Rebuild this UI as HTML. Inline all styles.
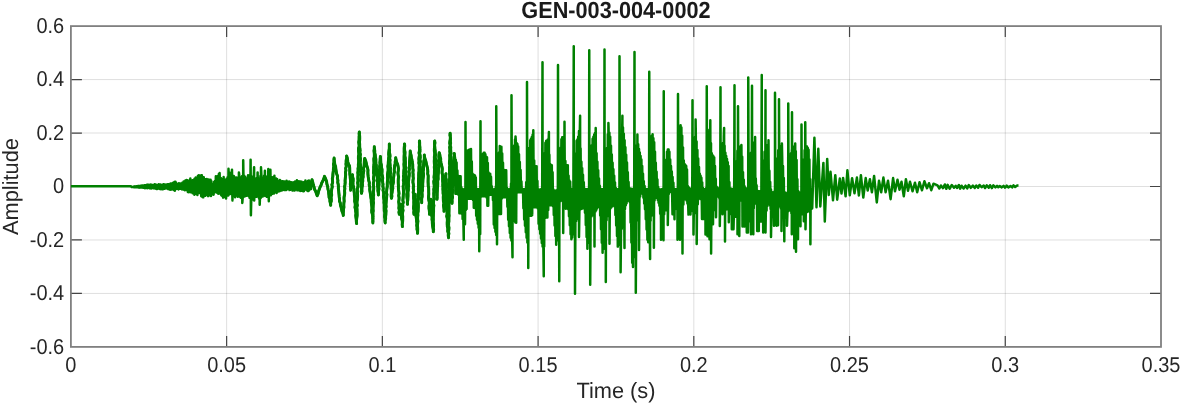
<!DOCTYPE html>
<html><head><meta charset="utf-8"><style>
html,body{margin:0;padding:0;background:#fff;overflow:hidden}
svg{display:block}
text{text-rendering:geometricPrecision}
.tk{font-family:"Liberation Sans",Arial,sans-serif;font-size:20px;fill:#262626}
.lb{font-family:"Liberation Sans",Arial,sans-serif;font-size:21.8px;fill:#262626}
.tt{font-family:"Liberation Sans",Arial,sans-serif;font-size:21.7px;font-weight:bold;fill:#1a1a1a}
</style></head><body>
<svg width="1182" height="404" viewBox="0 0 1182 404"><rect x="0" y="0" width="1182" height="404" fill="#fff"/><path d="M226.63 26.10V346.90M382.36 26.10V346.90M538.09 26.10V346.90M693.81 26.10V346.90M849.54 26.10V346.90M1005.27 26.10V346.90" stroke="#262626" stroke-opacity="0.15" stroke-width="1" fill="none"/><path d="M70.90 79.57H1161.00M70.90 133.03H1161.00M70.90 186.50H1161.00M70.90 239.97H1161.00M70.90 293.43H1161.00" stroke="#262626" stroke-opacity="0.15" stroke-width="1" fill="none"/><path d="M226.63 346.90v-11M226.63 26.10v11M382.36 346.90v-11M382.36 26.10v11M538.09 346.90v-11M538.09 26.10v11M693.81 346.90v-11M693.81 26.10v11M849.54 346.90v-11M849.54 26.10v11M1005.27 346.90v-11M1005.27 26.10v11M70.90 293.43h11M1161.00 293.43h-11M70.90 239.97h11M1161.00 239.97h-11M70.90 186.50h11M1161.00 186.50h-11M70.90 133.03h11M1161.00 133.03h-11M70.90 79.57h11M1161.00 79.57h-11" stroke="#444" stroke-width="1.2" fill="none"/><rect x="70.90" y="26.10" width="1090.10" height="320.80" stroke="#808080" stroke-width="1.8" fill="none"/><path d="M70.90 186.30 131.00 186.30 131.00 186.30 131.57 187.07 131.98 186.94 132.55 187.06 133.10 186.73 133.57 187.11 133.99 186.65 134.45 187.17 134.94 186.37 135.49 187.24 136.09 186.36 136.48 187.28 136.84 186.31 137.32 187.27 137.89 185.96 138.37 187.34 138.79 186.11 139.18 187.49 139.58 185.90 139.93 187.62 140.32 185.89 140.89 187.55 141.46 185.60 141.99 187.41 142.48 185.58 143.04 187.64 143.54 185.76 143.99 187.69 144.38 185.20 144.82 188.19 145.32 185.25 145.83 188.08 146.22 185.28 146.63 187.94 147.00 184.80 147.41 188.22 147.83 184.78 148.35 187.84 148.91 184.66 149.48 188.30 149.87 185.28 150.45 188.36 150.85 184.61 151.36 188.45 151.80 185.02 152.21 188.01 152.78 184.93 153.27 188.36 153.80 185.34 154.25 188.13 154.63 184.34 155.14 188.61 155.62 184.39 156.06 188.85 156.58 184.91 157.06 189.13 157.64 185.11 158.22 188.33 158.76 184.35 159.14 188.79 159.70 185.26 160.20 189.19 160.68 184.47 161.09 188.50 161.53 185.09 161.97 189.32 162.46 184.91 162.88 189.30 163.34 184.22 163.82 188.80 164.39 184.49 164.89 188.67 165.46 184.86 166.04 188.27 166.49 184.63 167.08 188.58 167.63 184.16 168.16 189.20 168.76 184.34 169.21 188.75 169.57 184.33 170.15 189.81 170.53 183.52 171.00 189.57 171.51 183.77 172.10 189.51 172.61 182.95 173.00 188.91 173.46 182.49 174.01 190.27 174.39 181.95 174.94 190.72 175.42 181.66 175.78 188.74 176.14 182.87 176.55 188.85 177.04 183.64 177.54 188.59 178.06 184.07 178.49 189.50 178.97 183.36 179.48 188.70 179.88 184.14 180.24 188.84 180.83 183.48 181.19 188.55 181.62 184.16 182.13 189.52 182.56 182.45 183.11 188.65 183.65 181.54 184.05 189.74 184.56 181.42 184.93 190.20 185.44 180.43 185.99 190.05 186.52 179.90 187.10 190.24 187.45 180.17 187.86 191.90 188.44 180.71 188.86 192.21 189.37 181.38 189.82 191.28 190.33 178.49 190.77 192.19 191.26 180.29 191.67 192.11 192.14 180.45 192.67 193.16 193.10 180.10 193.64 191.47 194.02 179.53 194.39 194.72 194.81 178.49 195.37 193.71 195.77 177.55 196.34 192.86 196.86 178.75 197.40 194.95 197.95 175.81 198.40 191.85 198.88 175.13 199.27 193.02 199.76 175.38 200.33 192.73 200.73 175.46 201.24 196.10 201.84 175.15 202.40 197.00 202.85 177.09 203.24 197.36 203.78 177.17 204.24 195.51 204.70 180.83 205.26 195.87 205.71 179.27 206.24 194.82 206.79 178.92 207.24 193.85 207.78 179.81 208.17 196.10 208.72 179.42 209.11 193.58 209.70 181.51 210.10 195.13 210.56 179.64 210.96 195.94 211.36 181.17 211.73 194.04 212.09 183.94 212.51 194.36 212.98 184.75 213.58 194.75 214.16 181.83 214.60 192.34 214.98 180.96 215.46 191.61 215.85 176.30 216.33 192.10 216.84 178.24 217.33 192.86 217.80 175.96 218.29 193.73 218.84 174.03 219.23 192.73 219.61 173.06 220.19 193.52 220.79 177.89 221.26 195.22 221.84 179.43 222.27 196.02 222.64 178.99 223.10 197.61 223.64 177.02 224.18 197.11 224.75 179.84 225.28 195.80 225.67 180.28 226.06 198.55 226.56 178.86 227.15 194.54 227.63 177.22 228.22 195.54 228.50 168.70 228.77 176.05 229.32 194.35 229.83 172.78 230.29 192.01 230.81 173.55 231.24 193.86 231.65 175.12 232.00 169.70 232.19 191.53 232.50 200.40 232.72 178.46 233.31 194.32 233.76 175.90 234.24 196.12 234.62 177.37 235.10 197.19 235.46 178.16 235.97 195.50 236.34 177.42 236.75 193.88 237.32 179.24 237.78 196.65 238.31 177.45 238.86 195.59 238.90 172.40 239.36 176.06 239.88 196.81 240.33 177.33 240.78 197.65 241.23 177.83 241.77 196.76 242.20 175.97 242.30 203.00 242.65 198.46 243.19 177.93 243.20 160.20 243.72 194.04 244.17 175.80 244.66 196.51 245.18 176.71 245.68 195.58 246.07 178.63 246.50 195.67 247.10 178.36 247.56 195.61 248.05 175.35 248.62 195.87 249.04 175.67 249.51 197.67 249.88 175.77 250.31 196.94 250.60 159.70 250.71 178.20 250.90 215.20 251.27 199.16 251.74 176.47 252.20 197.16 252.69 179.67 253.12 199.41 253.66 180.63 254.10 167.20 254.19 200.40 254.65 180.68 255.17 197.03 255.69 178.95 256.19 196.87 256.66 178.12 257.17 196.37 257.60 172.40 257.76 179.36 258.19 196.44 258.56 178.62 259.10 198.63 259.50 180.10 259.70 204.80 259.93 198.74 260.40 175.97 260.91 197.74 261.00 167.20 261.46 176.86 261.89 195.65 262.35 178.18 262.74 196.40 263.25 179.94 263.63 194.86 264.05 175.79 264.41 194.74 264.80 178.20 264.90 170.70 265.15 195.94 265.54 179.24 266.09 194.38 266.60 178.61 267.05 196.86 267.44 176.23 268.01 195.59 268.30 168.90 268.38 177.50 268.80 201.30 268.88 195.54 269.28 176.30 269.85 192.17 270.28 180.31 270.40 169.70 270.84 195.21 271.44 178.25 271.95 193.94 272.44 177.24 272.95 192.37 273.42 181.05 273.96 193.45 274.40 175.70 274.41 178.29 274.95 191.93 275.32 180.99 275.72 191.46 276.18 178.49 276.60 192.92 277.12 178.97 277.57 189.65 278.11 180.99 278.50 191.50 279.02 181.20 279.44 191.32 279.86 180.06 280.24 190.65 280.62 180.69 280.98 189.96 281.54 181.84 281.96 190.43 282.46 181.36 282.97 189.64 283.53 181.50 284.07 190.02 284.61 181.40 285.14 190.11 285.58 182.30 286.17 190.09 286.58 180.78 287.00 189.50 287.56 181.51 287.98 189.10 288.35 182.09 288.77 188.80 289.14 181.56 289.54 190.08 290.12 181.97 290.61 189.63 290.98 182.29 291.55 189.62 292.10 182.41 292.60 190.57 293.17 182.53 293.65 189.50 294.19 182.37 294.61 190.58 295.07 181.47 295.67 189.50 296.03 181.63 296.41 188.99 296.91 180.34 297.40 190.37 297.83 181.27 298.37 190.30 298.92 181.35 299.32 190.34 299.79 182.28 300.30 190.93 300.68 181.41 301.22 189.98 301.63 181.85 302.12 190.68 302.61 182.50 303.16 191.28 303.54 182.14 303.93 191.13 304.51 182.61 304.94 189.58 305.41 180.49 305.78 189.55 306.25 181.42 306.78 190.23 307.17 181.82 307.77 190.99 308.14 180.68 308.57 190.98 308.93 180.51 309.32 190.11 309.83 181.30 310.22 189.24 310.64 182.28 311.05 189.12 312.00 179.70 312.71 182.08 313.20 184.51 314.00 186.87 314.50 189.30 315.66 191.36 316.39 193.59 317.20 195.80 318.05 193.72 318.46 191.50 319.25 189.41 320.00 187.30 321.04 185.18 321.75 182.92 322.91 180.85 323.83 178.68 324.50 176.40 325.66 178.96 326.60 181.60 326.93 184.19 327.68 186.71 328.00 189.30 328.55 191.25 328.71 193.27 328.95 195.27 329.09 197.29 329.90 199.20 329.90 201.25 330.38 203.21 330.70 205.20 330.63 203.14 331.28 201.12 331.26 199.06 331.07 196.99 331.68 194.98 331.35 192.90 331.49 190.85 331.78 188.81 332.29 186.79 331.90 184.70 332.58 182.69 332.54 180.63 332.36 178.56 332.81 176.53 332.89 174.48 333.10 172.44 333.35 170.40 333.47 168.35 333.81 166.31 333.45 164.23 333.99 162.21 333.90 160.14 334.10 158.10 334.27 160.23 334.53 162.34 334.81 164.45 335.57 166.48 335.79 168.60 336.10 170.70 336.54 173.47 337.50 176.10 337.40 178.20 337.91 180.26 337.74 182.37 338.22 184.43 338.41 186.51 338.35 188.61 338.68 190.68 338.86 192.76 339.07 194.84 339.21 196.93 339.55 199.00 339.50 201.10 340.30 203.08 340.44 205.22 341.09 207.24 341.57 209.30 342.04 211.36 342.91 213.32 343.30 215.40 343.25 213.34 343.39 211.30 343.52 209.25 343.91 207.22 343.79 205.15 343.88 203.10 344.18 201.07 344.02 199.00 344.09 196.95 344.56 194.92 344.71 192.88 344.54 190.81 344.86 188.78 344.61 186.71 344.95 184.67 345.17 182.63 345.09 180.57 345.26 178.53 345.53 176.49 345.63 174.44 345.48 172.37 345.93 170.34 345.67 168.28 346.31 166.26 345.97 164.18 346.11 162.14 346.19 160.09 346.78 158.06 346.60 156.00 347.24 157.95 347.57 159.98 347.87 162.02 348.41 164.00 349.45 165.85 349.70 167.90 349.77 169.93 349.80 171.96 349.82 173.99 350.13 176.01 350.21 178.03 350.49 180.05 350.55 182.08 350.32 184.12 350.69 186.14 350.70 188.17 350.60 190.20 350.77 187.97 350.89 185.74 351.13 183.52 351.94 181.37 351.92 179.12 352.05 176.89 352.50 174.70 352.55 176.75 353.13 178.75 353.16 180.80 352.91 182.87 353.12 184.91 353.44 186.93 353.94 188.94 353.98 190.99 354.32 193.01 354.38 195.06 354.66 197.09 354.77 199.13 354.64 201.19 355.13 203.20 355.27 205.25 354.99 207.32 355.50 209.33 355.67 211.37 355.99 213.39 355.74 215.46 355.98 217.50 356.23 219.53 356.36 221.57 356.60 223.60 356.42 221.56 356.58 219.52 356.83 217.49 357.11 215.46 357.09 213.42 357.04 211.38 357.03 209.34 356.79 207.30 357.37 205.28 356.94 203.23 357.04 201.19 357.44 199.16 357.57 197.13 357.61 195.09 357.47 193.05 357.37 191.01 357.34 188.97 357.89 186.95 358.03 184.91 357.65 182.86 358.08 180.84 357.86 178.79 357.87 176.75 358.04 174.72 357.81 172.67 358.13 170.65 358.04 168.60 358.41 166.58 358.34 164.54 358.62 162.51 358.70 160.47 358.41 158.42 358.45 156.39 358.90 154.36 358.70 152.32 358.52 150.27 358.55 148.24 359.17 146.22 358.99 144.17 358.73 142.13 359.07 140.10 359.12 138.06 359.14 136.02 359.51 133.99 359.30 131.95 359.10 134.00 359.67 136.03 359.73 138.08 359.65 140.13 359.47 142.18 359.67 144.22 359.68 146.27 359.84 148.31 360.13 150.35 359.84 152.41 360.40 154.43 360.06 156.49 360.44 158.53 360.34 160.58 360.12 162.64 360.45 164.67 360.81 166.71 360.66 168.76 360.60 170.81 361.03 172.84 360.99 174.89 361.20 176.93 360.96 178.99 361.13 181.03 361.13 183.08 361.33 185.12 361.19 187.17 361.55 189.20 361.18 191.26 361.50 193.30 361.96 191.27 361.87 189.19 362.04 187.14 362.47 185.11 362.32 183.02 362.81 181.00 362.69 178.92 363.14 176.89 363.09 174.81 363.44 172.78 363.83 170.74 363.49 168.64 364.13 166.63 364.16 164.56 364.25 162.50 364.42 160.44 364.70 158.40 365.65 160.70 366.24 163.11 366.73 165.55 367.50 167.90 367.98 170.00 367.88 172.17 367.95 174.32 368.18 176.45 368.48 178.57 368.77 180.69 369.39 182.78 369.16 184.96 369.86 187.04 369.71 189.21 369.95 191.34 370.34 193.45 370.64 195.57 370.90 197.70 371.25 199.79 371.22 201.90 371.53 203.99 371.79 206.08 371.96 208.18 371.72 210.31 371.81 212.42 372.45 214.48 372.69 216.58 372.71 218.69 372.95 220.78 372.90 222.90 372.75 220.89 373.02 218.90 372.96 216.89 373.00 214.89 372.91 212.88 373.22 210.89 373.03 208.88 373.13 206.88 373.21 204.88 373.51 202.88 373.15 200.87 373.47 198.87 373.26 196.86 373.65 194.87 373.39 192.86 373.49 190.86 373.75 188.86 373.67 186.85 373.36 184.85 373.42 182.84 373.97 180.85 373.43 178.84 373.63 176.84 374.06 174.84 373.53 172.83 373.65 170.83 373.72 168.83 373.68 166.82 373.95 164.82 374.06 162.82 373.93 160.82 373.84 158.81 374.30 156.82 374.34 154.81 374.23 152.81 374.01 150.80 374.29 148.80 374.30 146.80 374.44 148.85 374.79 150.88 374.75 152.96 375.25 154.97 375.40 157.02 375.86 159.04 375.82 161.12 375.92 163.17 376.30 165.20 376.31 167.34 376.75 169.45 376.46 171.61 376.77 173.72 377.10 175.84 377.25 177.97 377.18 180.11 377.69 182.21 377.57 184.36 377.67 186.49 377.94 188.61 377.88 190.76 378.27 192.87 378.40 195.00 378.48 192.97 378.48 190.93 378.97 188.92 378.71 186.87 379.04 184.85 378.98 182.81 379.40 180.79 379.51 178.76 379.07 176.70 379.75 174.70 379.62 172.66 379.41 170.61 379.77 168.59 379.60 166.54 380.01 164.53 379.90 162.48 380.11 160.46 380.18 158.43 380.40 156.40 380.56 158.60 380.65 160.80 380.81 162.99 381.39 165.15 381.47 167.35 382.03 169.50 382.03 171.71 381.90 173.94 382.40 176.10 382.75 178.12 382.42 180.18 382.67 182.21 383.01 184.23 382.84 186.28 383.26 188.30 383.02 190.36 383.62 192.36 383.72 194.40 383.47 196.46 383.77 198.48 384.07 200.50 383.97 202.55 384.23 204.58 384.20 206.62 384.20 208.67 384.26 210.70 384.86 212.71 384.66 214.76 384.55 216.81 384.98 218.83 384.92 220.87 385.20 222.90 385.06 220.87 385.63 218.87 385.56 216.84 385.85 214.83 385.90 212.81 386.05 210.79 385.67 208.74 386.17 206.74 385.96 204.71 386.11 202.69 386.25 200.67 386.52 198.66 386.64 196.64 386.93 194.63 386.48 192.58 386.70 190.56 386.90 188.55 387.28 186.54 387.23 184.51 387.31 182.49 387.56 180.48 387.61 178.45 387.49 176.42 387.48 174.39 387.81 172.39 388.16 170.38 388.10 168.35 387.88 166.31 388.21 164.30 388.28 162.28 388.51 160.27 388.62 158.25 388.94 156.24 388.68 154.20 388.82 152.18 389.05 150.17 389.32 148.15 389.32 146.13 389.30 144.10 389.40 146.11 389.27 148.12 389.55 150.12 389.35 152.14 389.84 154.13 390.01 156.14 389.67 158.16 390.07 160.15 389.83 162.18 390.05 164.18 390.19 166.18 390.53 168.18 390.19 170.20 390.70 172.19 390.24 174.22 390.38 176.23 390.80 178.22 390.99 180.22 390.62 182.25 390.94 184.25 391.24 186.25 391.09 188.26 391.33 190.26 391.31 192.28 391.25 194.29 391.17 196.30 391.50 198.30 391.89 196.29 391.72 194.22 392.12 192.21 392.34 190.18 392.84 188.18 392.51 186.09 392.98 184.09 393.43 182.09 393.33 180.02 393.46 177.99 393.84 175.97 393.91 173.93 394.48 171.94 394.19 169.85 394.47 167.83 394.61 165.79 395.20 163.80 395.16 161.75 395.73 159.75 395.70 157.70 396.07 159.99 396.65 162.22 397.64 164.34 398.10 166.60 398.45 168.67 398.27 170.75 397.98 172.83 398.15 174.90 398.62 176.96 398.29 179.05 398.22 181.12 398.24 183.20 398.44 185.27 398.40 187.34 398.47 189.42 398.81 191.48 399.02 193.55 398.69 195.64 399.10 197.70 399.00 199.78 398.69 201.86 399.00 203.93 399.08 206.00 398.87 208.09 399.33 210.15 398.95 212.23 399.30 214.30 399.79 212.33 399.70 210.29 399.92 208.29 400.04 206.27 400.50 204.30 400.42 206.35 401.03 208.34 401.31 210.36 400.96 212.43 401.30 214.44 401.43 216.47 401.57 218.50 402.16 220.49 402.30 222.52 402.23 224.57 402.40 226.60 402.18 224.58 402.51 222.57 402.70 220.55 402.70 218.53 402.73 216.52 402.44 214.49 402.60 212.48 403.05 210.47 402.63 208.44 402.93 206.43 402.69 204.41 403.28 202.40 402.87 200.37 403.06 198.36 403.20 196.34 403.35 194.33 403.53 192.32 403.46 190.30 403.28 188.27 403.17 186.25 403.60 184.24 403.81 182.23 403.29 180.20 403.79 178.19 403.49 176.17 403.71 174.16 403.80 172.14 403.90 170.12 404.18 168.11 404.05 166.09 403.92 164.07 404.17 162.06 404.07 160.04 404.09 158.02 404.11 156.00 404.24 153.99 404.16 151.96 404.19 149.95 404.19 147.93 404.41 145.92 404.50 143.90 404.72 145.91 404.50 147.94 404.59 149.95 404.99 151.95 404.93 153.97 404.86 155.99 405.28 157.99 405.27 160.01 405.43 162.02 405.41 164.04 405.32 166.06 405.92 168.05 405.52 170.09 405.80 172.09 405.82 174.11 406.02 176.12 405.98 178.14 406.40 180.13 406.28 182.16 406.64 184.16 406.59 186.18 406.59 188.20 406.98 190.20 407.16 192.21 406.83 194.24 406.91 196.26 407.10 198.26 407.41 200.27 407.31 202.29 407.50 204.30 407.35 202.23 407.81 200.20 407.86 198.14 407.99 196.09 407.99 194.03 407.96 191.97 408.36 189.93 408.31 187.87 408.58 185.82 408.46 183.76 408.40 181.70 408.77 179.66 408.92 177.60 409.21 175.56 409.29 173.50 408.90 171.43 409.43 169.39 409.23 167.32 409.59 165.28 409.50 163.22 409.57 161.16 409.78 159.12 409.91 157.06 410.11 155.01 410.18 152.96 410.20 150.90 410.51 153.15 411.10 155.35 411.35 157.62 411.96 159.82 412.22 162.08 412.70 164.30 412.78 166.30 412.77 168.30 413.15 170.29 412.91 172.30 413.13 174.30 413.08 176.30 413.32 178.29 413.02 180.30 412.93 182.31 413.31 184.30 413.51 186.29 413.25 188.30 413.60 190.29 413.19 192.31 413.71 194.29 413.61 196.30 413.59 198.30 413.87 200.29 413.80 202.30 413.87 204.30 413.66 206.30 413.55 208.31 413.98 210.30 413.77 212.30 414.00 214.30 413.90 212.29 414.29 210.30 414.32 208.30 414.35 206.29 414.79 204.31 414.87 202.31 414.62 200.29 414.84 198.29 415.27 196.31 415.20 194.30 415.00 196.40 415.31 198.48 415.25 200.58 415.27 202.68 415.51 204.76 415.66 206.85 416.00 208.93 416.00 211.02 415.94 213.12 415.85 215.22 416.20 217.30 416.48 219.29 416.59 221.29 416.97 223.28 416.73 225.31 417.05 227.30 417.00 229.31 417.50 231.29 417.50 233.30 417.64 231.29 417.69 229.28 417.61 227.27 417.49 225.26 417.66 223.26 417.91 221.25 417.62 219.24 417.60 217.23 417.87 215.22 417.78 213.21 418.16 211.21 418.21 209.20 418.33 207.19 418.31 205.18 418.24 203.17 418.01 201.16 418.43 199.16 418.42 197.15 418.47 195.14 418.49 193.13 418.61 191.12 418.34 189.11 418.60 187.10 418.55 185.09 418.49 183.08 418.53 181.07 418.47 179.06 418.71 177.06 418.68 175.05 418.76 173.04 419.06 171.04 419.00 169.02 419.04 167.02 419.27 165.01 418.85 162.99 419.07 160.99 418.86 158.97 419.09 156.97 419.47 154.97 418.99 152.95 419.44 150.95 419.55 148.94 419.37 146.93 419.59 144.92 419.42 142.91 419.50 140.90 419.66 142.96 419.64 145.03 419.90 147.08 419.91 149.15 419.98 151.21 419.65 153.29 420.11 155.34 420.25 157.40 419.90 159.48 420.45 161.53 420.03 163.61 420.17 165.67 420.37 167.73 420.57 169.79 420.78 171.84 420.91 173.90 420.98 175.97 420.91 178.04 420.95 180.10 420.71 182.18 421.02 184.23 420.82 186.30 421.05 188.36 421.47 190.41 421.30 192.48 421.61 194.54 421.76 196.60 421.29 198.68 421.72 200.73 421.70 202.80 421.63 200.71 421.69 198.63 422.13 196.57 422.13 194.49 421.97 192.39 422.51 190.34 422.35 188.24 422.77 186.18 422.71 184.10 422.85 182.02 422.92 179.94 423.16 177.87 423.46 175.80 423.46 173.71 423.14 171.61 423.51 169.55 423.46 167.46 423.50 165.38 423.67 163.30 423.81 161.23 424.35 159.17 424.33 157.09 424.30 155.00 424.58 157.15 425.16 159.23 425.86 161.28 426.31 163.39 426.76 165.49 427.34 167.57 427.70 169.70 427.83 171.73 427.70 173.76 428.20 175.77 428.16 177.80 428.12 179.84 428.09 181.87 428.19 183.89 428.22 185.92 428.67 187.94 428.71 189.97 428.71 192.00 428.81 194.02 428.61 196.06 428.55 198.09 428.82 200.11 429.29 202.13 429.21 204.16 428.99 206.20 429.00 208.23 429.28 210.25 429.51 212.27 429.50 214.30 429.60 212.15 429.95 210.02 430.27 207.89 430.15 205.72 430.24 203.57 430.32 201.42 430.80 199.30 431.14 201.29 430.83 203.31 431.09 205.30 430.99 207.32 431.66 209.28 431.60 211.30 431.46 213.31 431.66 215.31 432.14 217.28 432.00 219.30 432.28 221.38 432.35 223.48 432.54 225.56 432.90 227.63 433.27 229.70 433.30 231.80 433.61 229.78 433.34 227.76 433.52 225.74 433.45 223.72 433.20 221.70 433.33 219.68 433.26 217.66 433.36 215.64 433.40 213.62 433.56 211.60 433.54 209.58 433.59 207.56 433.89 205.54 433.45 203.52 433.53 201.50 433.98 199.48 433.85 197.46 433.82 195.44 433.75 193.42 433.95 191.40 433.79 189.38 434.20 187.36 434.21 185.34 433.94 183.32 433.79 181.30 434.34 179.28 434.02 177.26 434.27 175.24 434.42 173.22 434.41 171.20 434.48 169.18 434.29 167.16 434.53 165.14 434.33 163.12 434.25 161.10 434.41 159.08 434.35 157.06 434.64 155.04 434.71 153.02 434.33 151.00 434.37 148.98 434.54 146.96 434.62 144.94 434.94 142.92 434.70 140.90 434.51 142.92 434.58 144.94 434.80 146.95 434.91 148.96 435.23 150.96 435.25 152.98 435.55 154.98 435.13 157.02 435.55 159.02 435.75 161.03 435.68 163.05 435.76 165.06 435.60 167.08 436.11 169.08 436.05 171.10 435.73 173.13 435.84 175.14 436.05 177.15 436.17 179.16 436.45 181.17 436.14 183.20 436.29 185.21 436.52 187.22 436.81 189.22 436.85 191.24 436.83 193.26 436.94 195.27 437.18 197.28 437.00 199.30 437.04 197.27 437.16 195.25 437.16 193.22 437.31 191.19 437.38 189.16 437.50 187.14 437.74 185.12 437.76 183.09 437.68 181.06 438.13 179.05 438.06 177.01 438.12 174.99 438.37 172.97 438.49 170.94 438.64 168.92 438.72 166.89 438.73 164.86 438.85 162.84 438.61 160.79 439.03 158.78 438.86 156.75 438.96 154.72 439.20 152.70 439.82 154.70 440.06 156.77 440.68 158.77 440.71 160.89 441.05 162.94 441.44 164.99 442.00 167.00 442.31 169.00 442.10 171.03 442.07 173.05 442.64 175.04 442.64 177.06 442.68 179.08 442.66 181.09 442.92 183.10 442.79 185.12 443.00 187.13 442.91 189.15 443.07 191.16 443.07 193.18 443.42 195.18 443.24 197.21 443.31 199.22 443.41 201.24 443.90 203.23 443.46 205.27 443.77 207.27 444.05 209.28 444.00 211.30 444.07 209.21 444.23 207.12 444.34 205.03 444.29 202.94 444.41 200.85 444.58 198.76 444.95 196.69 444.85 194.59 444.72 192.49 445.08 190.41 445.04 188.31 445.04 186.22 445.73 184.16 445.43 182.05 445.69 179.97 445.69 177.87 445.62 175.77 446.00 173.70 445.81 175.73 445.83 177.75 446.33 179.77 446.24 181.79 446.32 183.82 446.49 185.84 446.24 187.87 446.21 189.90 446.28 191.92 446.37 193.94 446.82 195.96 446.74 197.98 446.62 200.01 446.55 202.04 446.79 204.06 446.80 206.08 446.61 208.11 447.15 210.13 447.05 212.15 447.09 214.18 446.71 216.21 447.22 218.22 447.38 220.25 447.20 222.27 447.20 224.30 447.34 226.54 447.87 228.75 447.70 231.02 448.31 233.21 448.24 235.48 448.60 237.70 448.43 235.69 448.89 233.68 448.51 231.67 448.85 229.66 448.95 227.65 448.63 225.64 448.56 223.63 448.88 221.62 448.86 219.61 448.88 217.60 449.09 215.60 448.92 213.58 448.97 211.57 449.00 209.57 449.01 207.56 449.00 205.55 448.89 203.53 449.00 201.53 449.01 199.52 449.03 197.51 449.38 195.50 449.00 193.49 449.09 191.48 449.31 189.47 449.21 187.46 449.19 185.45 449.30 183.44 449.41 181.43 449.54 179.42 449.75 177.42 449.71 175.40 449.48 173.39 449.52 171.38 449.53 169.37 449.45 167.36 449.91 165.36 449.41 163.34 449.52 161.33 449.82 159.33 449.81 157.32 449.65 155.30 450.07 153.30 449.79 151.29 449.93 149.28 449.65 147.26 450.16 145.26 449.72 143.24 449.92 141.24 450.24 139.23 450.31 137.22 450.31 135.21 450.10 133.20 449.96 135.21 450.37 137.20 450.54 139.20 450.35 141.21 450.63 143.21 450.15 145.22 450.77 147.21 450.64 149.22 450.77 151.22 450.93 153.22 450.70 155.23 451.01 157.23 450.57 159.24 450.75 161.24 450.99 163.24 450.76 165.25 450.84 167.25 451.18 169.25 450.92 171.26 450.93 173.26 451.17 175.26 451.38 177.26 451.11 179.27 451.14 181.28 451.55 183.27 451.76 185.27 451.35 187.28 451.52 189.28 451.84 191.28 451.69 193.29 451.90 195.29 451.59 197.30 451.99 199.29 452.13 201.29 452.00 203.30 451.82 201.21 452.09 199.14 452.57 197.08 452.20 194.98 452.43 192.90 452.83 190.84 452.35 188.73 452.61 186.66 453.02 184.60 452.67 182.50 453.27 180.44 453.30 178.36 452.98 176.26 453.34 174.19 453.41 172.11 453.58 170.04 453.44 167.95 453.58 165.87 453.59 163.79 453.71 161.71 453.73 159.63 454.26 157.57 454.34 155.49 454.20 153.40 455.00 157.42 455.40 193.85 455.80 159.79 456.20 193.85 456.60 162.50 457.00 193.85 457.40 170.50 457.80 193.95 458.20 175.69 458.60 195.00 459.00 176.15 459.40 213.35 459.80 176.15 460.20 213.35 460.60 176.15 461.00 213.35 461.40 187.19 461.80 213.81 462.20 189.05 462.60 218.97 463.00 189.15 463.40 222.08 463.75 239.80 463.80 189.15 464.20 224.73 464.60 189.05 465.00 224.19 465.40 188.00 465.50 121.95 465.80 210.00 466.20 175.05 466.60 208.87 467.00 161.23 467.40 199.08 467.80 150.51 468.20 198.85 468.60 149.98 469.00 198.85 469.40 149.54 469.80 198.85 470.20 149.26 470.60 198.85 471.00 148.99 471.40 198.85 471.80 161.43 472.20 198.87 472.60 173.78 473.00 200.00 473.40 174.44 473.80 207.85 474.20 175.04 474.60 207.85 475.00 175.55 475.40 208.31 475.80 177.39 476.20 215.75 476.60 188.69 477.00 219.75 477.40 189.13 477.80 223.75 478.20 189.15 478.60 227.75 479.00 189.15 479.25 251.30 479.40 231.00 479.80 188.69 480.20 234.02 480.50 121.20 480.60 182.60 481.00 196.81 481.40 173.00 481.80 196.35 482.20 163.40 482.60 196.35 483.00 153.80 483.40 196.35 483.80 152.83 484.20 196.35 484.60 152.68 485.00 196.35 485.40 154.37 485.80 196.37 486.20 156.69 486.60 197.50 487.00 157.15 487.40 205.85 487.80 162.98 488.20 205.85 488.60 172.50 489.00 195.31 489.40 173.55 489.80 194.87 490.20 173.65 490.60 194.85 491.00 176.67 491.40 194.85 491.80 186.21 492.20 194.95 492.60 188.92 493.00 200.33 493.40 189.15 493.80 224.47 494.20 189.15 494.60 228.05 495.00 188.92 495.40 231.64 495.80 186.41 496.20 235.09 496.25 106.20 496.60 177.92 497.00 220.75 497.00 244.30 497.40 169.43 497.80 213.95 498.20 160.95 498.60 213.87 499.00 152.46 499.40 213.90 499.80 146.12 500.00 146.20 500.20 213.94 500.60 146.39 501.00 213.97 501.40 146.67 501.80 198.50 502.20 153.41 502.60 197.45 503.00 162.65 503.40 197.35 503.80 169.69 504.20 197.35 504.60 170.13 505.00 197.35 505.40 170.15 505.80 197.35 506.20 170.15 506.60 197.58 507.00 188.00 507.40 206.75 507.80 189.05 508.20 219.62 508.60 189.15 509.00 226.34 509.40 189.15 509.80 233.06 510.20 188.80 510.60 237.62 511.00 183.80 511.40 240.50 511.50 95.20 511.80 174.20 512.20 240.45 512.50 257.30 512.60 164.60 513.00 221.51 513.40 155.00 513.80 220.85 514.20 145.40 514.60 221.26 515.00 139.44 515.40 222.44 515.50 136.40 515.80 140.51 516.20 222.85 516.60 143.09 517.00 192.81 517.40 144.05 517.80 192.35 518.20 146.42 518.60 192.35 519.00 154.25 519.40 192.35 519.80 162.08 520.20 192.35 520.60 169.91 521.00 192.35 521.40 181.40 521.80 192.37 522.20 188.69 522.60 192.81 523.00 189.15 523.40 208.28 523.80 189.15 524.20 219.40 524.60 189.13 525.00 225.80 525.40 188.69 525.80 232.20 526.20 182.13 526.60 237.70 527.00 173.60 527.00 81.95 527.40 242.50 527.80 165.07 528.20 234.25 528.25 268.05 528.60 156.53 529.00 216.08 529.40 148.00 529.80 215.85 530.20 140.17 530.60 215.85 531.00 138.67 531.40 215.85 531.80 136.91 532.20 214.88 532.60 134.69 533.00 207.58 533.30 130.20 533.40 146.62 533.80 207.35 534.20 160.62 534.60 207.35 535.00 165.92 535.40 207.35 535.80 166.15 536.20 207.35 536.60 166.15 537.00 207.37 537.40 181.02 537.80 208.50 538.20 189.21 538.60 223.82 539.00 189.62 539.40 229.29 539.80 189.45 540.20 233.86 540.60 189.24 541.00 238.43 541.40 188.94 541.80 243.00 542.20 184.72 542.50 62.20 542.60 246.50 543.00 174.24 543.40 249.17 543.75 276.30 543.80 163.75 544.20 246.56 544.60 153.26 545.00 217.91 545.40 142.78 545.80 217.45 546.20 140.65 546.60 217.45 547.00 140.55 547.40 217.45 547.80 139.52 548.20 209.99 548.60 143.38 548.90 132.00 549.00 205.38 549.40 154.76 549.80 205.15 550.20 164.00 550.60 205.15 551.00 165.13 551.40 205.15 551.80 165.15 552.20 205.17 552.60 172.15 553.00 206.30 553.40 189.59 553.80 214.88 554.20 190.61 554.60 225.44 555.00 190.65 555.40 236.00 555.80 190.41 556.20 244.75 556.60 190.17 557.00 240.29 557.40 189.70 557.80 230.31 558.00 64.95 558.20 181.30 558.60 220.33 559.00 170.10 559.25 281.30 559.40 210.35 559.80 158.90 560.20 201.12 560.60 147.70 561.00 200.32 561.40 139.21 561.80 200.04 562.20 137.35 562.60 201.20 563.00 137.35 563.20 232.90 563.40 203.08 563.80 137.25 564.20 204.96 564.50 121.70 564.60 145.43 565.00 206.84 565.40 161.07 565.80 208.72 566.20 164.92 566.60 208.25 567.00 165.15 567.40 207.94 567.80 165.15 568.20 209.21 568.60 175.70 569.00 216.29 569.40 180.52 569.80 225.26 570.20 181.70 570.60 234.23 571.00 188.69 571.40 239.25 571.80 189.15 572.20 237.59 572.60 189.13 573.00 234.14 573.40 188.69 573.75 46.20 573.80 230.69 574.20 179.20 574.60 227.23 575.00 166.40 575.00 293.80 575.40 223.78 575.80 153.60 576.20 221.05 576.60 140.80 577.00 218.65 577.40 139.48 577.80 216.25 578.20 136.63 578.60 213.85 579.00 130.95 579.00 237.00 579.40 211.45 579.80 132.23 580.10 115.70 580.20 209.51 580.60 148.45 581.00 209.06 581.40 161.65 581.80 208.64 582.20 168.23 582.60 208.23 583.00 174.80 583.40 207.95 583.80 182.19 584.20 208.13 584.60 188.69 585.00 212.80 585.40 189.13 585.80 224.94 586.20 189.15 586.60 237.09 587.00 189.15 587.40 248.85 587.80 189.15 588.20 242.66 588.60 188.69 589.00 235.76 589.25 50.20 589.40 181.25 589.80 228.85 590.20 169.25 590.20 284.70 590.60 221.95 591.00 157.25 591.40 216.49 591.80 145.25 592.20 215.50 592.60 138.84 593.00 214.52 593.40 136.67 593.80 213.54 594.20 134.52 594.50 246.50 594.60 212.56 595.00 132.99 595.40 211.58 595.70 128.00 595.80 143.10 596.20 210.20 596.60 153.20 597.00 208.48 597.40 161.85 597.80 207.02 598.20 170.15 598.60 206.55 599.00 178.45 599.40 207.27 599.80 185.80 600.20 215.42 600.60 188.69 601.00 229.14 601.40 189.13 601.80 242.85 602.20 189.15 602.60 252.85 603.00 189.15 603.40 249.06 603.80 189.05 604.20 241.88 604.50 49.45 604.60 188.00 605.00 234.70 605.40 175.20 605.80 227.52 605.80 281.90 606.20 161.56 606.60 220.34 607.00 147.91 607.40 215.96 607.80 134.26 608.20 213.98 608.40 123.10 608.60 128.82 609.00 211.99 609.40 132.63 609.50 243.80 609.80 210.00 610.20 136.76 610.60 208.16 611.00 145.67 611.40 207.18 611.80 154.57 612.20 206.20 612.60 162.72 613.00 205.42 613.40 169.20 613.80 205.21 614.20 175.67 614.60 206.48 615.00 182.39 615.40 214.89 615.80 188.00 616.20 225.47 616.60 189.13 617.00 236.04 617.40 189.15 617.80 246.62 618.20 189.15 618.60 244.83 619.00 189.05 619.40 240.81 619.50 56.20 619.80 188.00 620.20 236.79 620.60 169.09 620.60 272.30 621.00 232.77 621.40 148.91 621.80 228.75 622.20 129.46 622.40 115.70 622.60 223.97 623.00 127.50 623.40 219.01 623.80 133.71 624.20 214.05 624.50 247.90 624.60 140.29 625.00 209.09 625.40 147.25 625.80 205.29 626.20 154.67 626.60 203.17 627.00 162.52 627.40 201.05 627.80 172.23 628.20 200.32 628.60 181.94 629.00 200.11 629.40 188.11 629.80 202.26 630.20 188.57 630.60 222.41 631.00 188.71 631.40 242.56 631.80 188.86 632.20 262.70 632.60 189.00 633.00 267.11 633.40 189.13 633.80 257.06 634.20 188.70 634.50 51.95 634.60 247.00 635.00 180.37 635.40 236.94 635.80 162.92 635.80 292.80 636.20 226.89 636.60 145.48 637.00 220.19 637.40 134.40 637.80 214.26 638.20 144.34 638.60 208.34 639.00 149.06 639.00 250.00 639.40 202.42 639.80 152.57 640.20 196.49 640.60 156.09 641.00 193.05 641.40 159.60 641.80 193.46 642.20 165.97 642.60 193.36 643.00 173.65 643.40 197.80 643.80 181.32 644.20 203.47 644.60 186.03 645.00 209.15 645.40 188.86 645.80 219.11 646.20 189.15 646.60 229.37 647.00 189.15 647.40 239.62 647.80 189.13 648.20 242.33 648.60 188.69 649.00 235.10 649.25 71.70 649.40 178.25 649.80 227.88 650.10 258.90 650.20 164.07 650.60 220.66 651.00 149.89 651.40 215.78 651.80 135.70 652.20 211.97 652.60 134.21 653.00 208.16 653.40 138.19 653.80 204.35 653.90 247.80 654.20 142.16 654.60 200.54 655.00 151.75 655.40 198.00 655.80 162.64 656.20 197.25 656.60 171.72 657.00 197.87 657.40 179.39 657.80 200.00 658.20 187.06 658.60 202.83 659.00 189.38 659.40 205.67 659.80 189.61 660.20 213.84 660.60 189.47 661.00 223.24 661.00 239.80 661.40 189.32 661.80 225.63 662.20 189.17 662.60 226.83 663.00 188.71 663.40 224.73 663.50 240.30 663.75 91.20 663.80 183.55 664.20 214.27 664.60 175.63 665.00 210.27 665.40 167.71 665.80 210.27 666.20 159.79 666.60 209.15 667.00 151.87 667.40 203.97 667.80 149.55 667.80 225.00 668.20 198.79 668.60 149.55 669.00 193.62 669.40 151.78 669.80 191.81 670.20 159.52 670.60 191.07 671.00 166.02 671.40 191.96 671.80 171.56 672.20 197.28 672.50 214.30 672.60 177.11 673.00 203.78 673.40 182.65 673.80 205.41 674.20 188.69 674.50 219.30 674.60 206.41 675.00 189.13 675.40 207.41 675.80 189.15 676.20 208.41 676.60 189.15 677.00 209.42 677.40 188.69 677.50 239.80 677.80 210.48 678.00 93.95 678.20 178.07 678.60 211.55 679.00 160.41 679.40 212.56 679.80 142.76 680.00 239.80 680.20 212.21 680.60 125.15 681.00 211.85 681.40 127.60 681.80 211.50 682.20 135.83 682.50 253.60 682.60 210.19 683.00 147.38 683.40 204.40 683.80 160.45 684.20 199.59 684.60 164.07 685.00 198.68 685.40 164.98 685.80 199.14 686.20 165.89 686.60 200.57 687.00 169.50 687.40 203.37 687.80 186.05 688.20 205.65 688.50 214.60 688.60 187.27 689.00 206.61 689.40 188.00 689.80 207.57 690.20 188.73 690.50 214.60 690.60 208.53 691.00 189.06 691.40 209.49 691.80 188.73 692.20 210.45 692.50 100.20 692.60 181.51 693.00 211.39 693.40 166.69 693.50 234.60 693.80 212.19 694.20 151.87 694.60 212.99 695.00 137.04 695.40 212.11 695.60 119.50 695.80 133.09 696.20 210.78 696.60 141.56 696.70 244.10 697.00 209.08 697.40 150.03 697.80 204.14 698.20 158.54 698.60 199.21 699.00 167.05 699.40 198.20 699.80 173.64 700.20 198.22 700.60 175.68 701.00 199.20 701.40 177.71 701.80 203.93 702.00 219.00 702.20 182.39 702.60 206.33 703.00 188.00 703.40 207.53 703.80 189.13 703.80 219.00 704.20 208.73 704.60 189.15 705.00 209.93 705.40 189.13 705.50 234.60 705.80 211.13 706.20 188.00 706.60 211.76 706.75 86.20 707.00 175.59 707.40 212.36 707.50 236.30 707.80 160.32 708.20 212.96 708.60 145.05 709.00 213.56 709.40 129.77 709.50 239.30 709.80 213.26 710.20 132.92 710.30 120.20 710.60 212.82 711.00 143.14 711.10 253.60 711.40 212.39 711.80 153.36 712.20 211.95 712.60 155.35 713.00 211.51 713.00 224.30 713.40 156.37 713.80 210.07 714.20 157.38 714.60 206.64 715.00 166.07 715.40 203.21 715.80 178.82 716.00 217.30 716.20 199.79 716.60 186.80 717.00 196.65 717.40 187.55 717.80 196.04 718.20 188.27 718.60 196.47 719.00 188.93 719.40 198.37 719.80 189.10 719.80 225.90 720.20 202.77 720.50 87.20 720.60 187.86 721.00 207.17 721.40 175.00 721.80 208.19 722.20 159.00 722.50 214.30 722.60 208.99 723.00 143.00 723.40 209.79 723.80 136.77 724.10 128.00 724.20 210.57 724.60 145.67 725.00 210.11 725.00 241.50 725.40 152.78 725.80 209.65 726.20 155.91 726.60 209.20 727.00 159.04 727.40 208.91 727.80 162.17 728.20 209.10 728.60 166.11 728.80 222.30 729.00 210.47 729.40 182.33 729.80 212.07 730.20 188.34 730.60 213.67 731.00 188.63 731.40 214.79 731.80 188.81 731.80 229.20 732.20 215.59 732.60 189.00 733.00 216.39 733.40 189.15 733.50 229.20 733.80 216.76 734.20 188.66 734.50 85.20 734.60 216.68 735.00 182.10 735.40 216.59 735.80 171.62 736.20 216.65 736.60 161.14 737.00 216.86 737.40 150.66 737.50 234.30 737.80 214.72 738.00 106.20 738.20 149.38 738.60 212.59 739.00 148.32 739.30 236.10 739.40 205.40 739.80 147.25 740.20 200.40 740.60 146.18 741.00 198.85 741.40 145.12 741.80 200.40 742.20 156.80 742.50 226.60 742.60 205.40 743.00 172.13 743.40 212.27 743.80 179.78 744.20 213.87 744.50 226.60 744.60 186.27 745.00 215.47 745.40 188.00 745.80 217.07 746.20 188.98 746.60 218.67 746.80 232.60 747.00 188.76 747.40 219.75 747.80 187.91 748.00 232.60 748.20 220.50 748.25 77.45 748.60 179.62 749.00 221.25 749.40 170.68 749.80 220.68 750.20 161.74 750.60 219.82 751.00 152.79 751.00 234.30 751.40 218.24 751.80 148.69 752.00 85.70 752.20 215.68 752.60 146.64 753.00 213.12 753.30 234.30 753.40 144.59 753.80 208.36 754.20 142.54 754.60 203.37 755.00 162.52 755.10 136.90 755.40 203.56 755.80 178.44 756.20 203.06 756.60 185.29 757.00 206.73 757.20 230.90 757.40 190.69 757.80 212.48 758.20 191.13 758.60 215.04 758.80 230.90 759.00 191.15 759.40 217.60 759.80 191.15 760.20 219.87 760.60 190.92 761.00 221.47 761.40 187.22 761.75 74.95 761.80 221.02 762.20 178.33 762.60 219.95 763.00 169.44 763.20 232.60 763.40 218.58 763.80 160.56 764.20 216.75 764.60 151.67 765.00 214.92 765.40 148.88 765.50 90.20 765.50 232.60 765.80 213.09 766.20 147.24 766.60 210.54 767.00 145.60 767.40 205.88 767.80 146.37 768.20 204.18 768.50 140.20 768.60 158.57 769.00 204.25 769.40 170.78 769.80 205.28 770.20 182.10 770.60 209.04 771.00 189.60 771.00 237.00 771.40 212.27 771.80 191.92 772.20 213.87 772.60 192.15 773.00 215.47 773.40 192.15 773.80 215.96 774.00 225.70 774.20 191.69 774.60 215.36 775.00 185.88 775.00 92.70 775.40 214.76 775.80 176.76 776.20 213.92 776.50 225.70 776.60 167.65 777.00 211.46 777.40 158.54 777.80 208.99 778.00 225.30 778.20 150.29 778.60 206.70 779.00 149.15 779.00 99.20 779.40 206.46 779.80 148.00 780.20 206.42 780.60 146.86 781.00 208.86 781.40 149.57 781.50 230.90 781.80 212.44 781.90 143.60 782.20 157.79 782.60 214.33 783.00 166.01 783.40 215.53 783.80 178.00 784.20 216.73 784.30 241.30 784.60 192.00 785.00 217.73 785.40 193.05 785.80 216.36 786.20 193.15 786.60 214.99 787.00 193.13 787.00 225.70 787.40 213.62 787.80 192.00 788.20 211.28 788.25 103.45 788.60 183.73 789.00 209.87 789.40 173.55 789.80 209.92 790.20 163.36 790.60 210.73 791.00 153.18 791.40 213.40 791.80 149.69 791.80 234.30 792.00 112.20 792.20 215.73 792.60 148.66 793.00 216.93 793.40 147.64 793.80 218.13 794.20 146.61 794.30 248.30 794.60 219.33 795.00 147.48 795.20 143.60 795.40 219.55 795.80 151.35 796.00 251.70 796.20 218.48 796.60 160.00 797.00 217.42 797.40 179.20 797.80 215.87 798.00 239.30 798.20 190.91 798.60 214.27 799.00 192.36 799.40 213.14 799.80 193.00 800.20 212.93 800.50 226.30 800.60 192.57 801.00 213.29 801.40 190.09 801.50 124.45 801.80 213.82 802.20 179.91 802.60 214.35 803.00 169.73 803.40 214.35 803.80 159.55 803.80 221.30 804.20 213.82 804.60 150.26 805.00 213.29 805.25 122.20 805.40 149.03 805.50 229.30 805.80 212.75 806.20 147.80 806.60 212.22 807.00 146.57 807.40 211.69 807.80 147.97 808.20 211.15 808.60 149.82 809.00 210.62 809.40 159.40 809.80 210.09 810.20 179.30 810.40 244.30 810.60 209.55 811.00 189.03 811.40 208.98 811.80 190.26 812.20 208.15 814.40 137.70 816.50 207.20 818.30 148.70 820.30 206.50 823.40 162.90 824.80 221.50 827.20 158.90 828.80 194.90 830.50 171.80 833.00 200.30 835.30 175.20 837.20 199.70 839.80 178.60 841.50 193.60 843.10 177.90 845.60 196.30 847.40 170.30 849.80 195.30 852.10 178.20 854.50 193.30 856.90 177.60 858.90 195.50 860.90 175.20 863.30 197.60 865.70 178.10 867.70 190.60 869.90 179.20 871.90 192.30 874.10 176.00 876.80 202.40 879.00 180.80 881.20 192.30 883.40 177.60 885.60 192.20 888.00 180.70 890.60 199.20 893.10 178.10 895.00 191.30 897.50 179.70 899.50 189.80 901.50 181.70 903.80 196.30 905.90 179.20 908.00 190.80 910.00 181.70 912.50 191.30 915.00 182.70 917.20 192.30 919.50 182.20 922.00 190.30 924.40 181.30 927.00 188.20 929.00 183.20 931.30 190.20 933.50 183.70 937.50 185.40 939.39 188.47 940.87 185.45 943.04 188.12 944.82 184.48 946.32 188.82 947.63 184.88 949.64 188.76 951.81 184.98 953.99 187.79 955.71 185.77 956.99 187.98 958.91 184.99 960.13 188.62 961.58 185.70 963.61 188.48 965.55 185.66 967.21 188.34 968.77 185.07 970.75 187.81 972.85 185.64 974.79 187.96 976.33 185.48 978.13 187.80 979.44 184.94 981.61 187.18 983.75 185.50 985.08 188.06 986.71 185.31 988.74 187.70 989.99 185.20 991.88 188.06 993.35 185.28 995.43 187.41 997.04 185.79 998.24 187.25 999.77 186.03 1001.74 187.40 1003.51 185.87 1005.07 187.67 1006.74 185.61 1008.36 187.41 1010.46 185.94 1012.18 187.43 1013.46 185.42 1015.16 187.02 1017.12 185.60 1018.50 185.60" stroke="#008000" stroke-width="2.5" fill="none" stroke-linejoin="round" stroke-linecap="butt"/><path d="M312.00 179.70 312.71 182.08 313.20 184.51 314.00 186.87 314.50 189.30 315.66 191.36 316.39 193.59 317.20 195.80 318.05 193.72 318.46 191.50 319.25 189.41 320.00 187.30 321.04 185.18 321.75 182.92 322.91 180.85 323.83 178.68 324.50 176.40 325.66 178.96 326.60 181.60 326.93 184.19 327.68 186.71 328.00 189.30 328.55 191.25 328.71 193.27 328.95 195.27 329.09 197.29 329.90 199.20 329.90 201.25 330.38 203.21 330.70 205.20 330.63 203.14 331.28 201.12 331.26 199.06 331.07 196.99 331.68 194.98 331.35 192.90 331.49 190.85 331.78 188.81 332.29 186.79 331.90 184.70 332.58 182.69 332.54 180.63 332.36 178.56 332.81 176.53 332.89 174.48 333.10 172.44 333.35 170.40 333.47 168.35 333.81 166.31 333.45 164.23 333.99 162.21 333.90 160.14 334.10 158.10 334.27 160.23 334.53 162.34 334.81 164.45 335.57 166.48 335.79 168.60 336.10 170.70 336.54 173.47 337.50 176.10 337.40 178.20 337.91 180.26 337.74 182.37 338.22 184.43 338.41 186.51 338.35 188.61 338.68 190.68 338.86 192.76 339.07 194.84 339.21 196.93 339.55 199.00 339.50 201.10 340.30 203.08 340.44 205.22 341.09 207.24 341.57 209.30 342.04 211.36 342.91 213.32 343.30 215.40 343.25 213.34 343.39 211.30 343.52 209.25 343.91 207.22 343.79 205.15 343.88 203.10 344.18 201.07 344.02 199.00 344.09 196.95 344.56 194.92 344.71 192.88 344.54 190.81 344.86 188.78 344.61 186.71 344.95 184.67 345.17 182.63 345.09 180.57 345.26 178.53 345.53 176.49 345.63 174.44 345.48 172.37 345.93 170.34 345.67 168.28 346.31 166.26 345.97 164.18 346.11 162.14 346.19 160.09 346.78 158.06 346.60 156.00 347.24 157.95 347.57 159.98 347.87 162.02 348.41 164.00 349.45 165.85 349.70 167.90 349.77 169.93 349.80 171.96 349.82 173.99 350.13 176.01 350.21 178.03 350.49 180.05 350.55 182.08 350.32 184.12 350.69 186.14 350.70 188.17 350.60 190.20 350.77 187.97 350.89 185.74 351.13 183.52 351.94 181.37 351.92 179.12 352.05 176.89 352.50 174.70 352.55 176.75 353.13 178.75 353.16 180.80 352.91 182.87 353.12 184.91 353.44 186.93 353.94 188.94 353.98 190.99 354.32 193.01 354.38 195.06 354.66 197.09 354.77 199.13 354.64 201.19 355.13 203.20 355.27 205.25 354.99 207.32 355.50 209.33 355.67 211.37 355.99 213.39 355.74 215.46 355.98 217.50 356.23 219.53 356.36 221.57 356.60 223.60 356.42 221.56 356.58 219.52 356.83 217.49 357.11 215.46 357.09 213.42 357.04 211.38 357.03 209.34 356.79 207.30 357.37 205.28 356.94 203.23 357.04 201.19 357.44 199.16 357.57 197.13 357.61 195.09 357.47 193.05 357.37 191.01 357.34 188.97 357.89 186.95 358.03 184.91 357.65 182.86 358.08 180.84 357.86 178.79 357.87 176.75 358.04 174.72 357.81 172.67 358.13 170.65 358.04 168.60 358.41 166.58 358.34 164.54 358.62 162.51 358.70 160.47 358.41 158.42 358.45 156.39 358.90 154.36 358.70 152.32 358.52 150.27 358.55 148.24 359.17 146.22 358.99 144.17 358.73 142.13 359.07 140.10 359.12 138.06 359.14 136.02 359.51 133.99 359.30 131.95 359.10 134.00 359.67 136.03 359.73 138.08 359.65 140.13 359.47 142.18 359.67 144.22 359.68 146.27 359.84 148.31 360.13 150.35 359.84 152.41 360.40 154.43 360.06 156.49 360.44 158.53 360.34 160.58 360.12 162.64 360.45 164.67 360.81 166.71 360.66 168.76 360.60 170.81 361.03 172.84 360.99 174.89 361.20 176.93 360.96 178.99 361.13 181.03 361.13 183.08 361.33 185.12 361.19 187.17 361.55 189.20 361.18 191.26 361.50 193.30 361.96 191.27 361.87 189.19 362.04 187.14 362.47 185.11 362.32 183.02 362.81 181.00 362.69 178.92 363.14 176.89 363.09 174.81 363.44 172.78 363.83 170.74 363.49 168.64 364.13 166.63 364.16 164.56 364.25 162.50 364.42 160.44 364.70 158.40 365.65 160.70 366.24 163.11 366.73 165.55 367.50 167.90 367.98 170.00 367.88 172.17 367.95 174.32 368.18 176.45 368.48 178.57 368.77 180.69 369.39 182.78 369.16 184.96 369.86 187.04 369.71 189.21 369.95 191.34 370.34 193.45 370.64 195.57 370.90 197.70 371.25 199.79 371.22 201.90 371.53 203.99 371.79 206.08 371.96 208.18 371.72 210.31 371.81 212.42 372.45 214.48 372.69 216.58 372.71 218.69 372.95 220.78 372.90 222.90 372.75 220.89 373.02 218.90 372.96 216.89 373.00 214.89 372.91 212.88 373.22 210.89 373.03 208.88 373.13 206.88 373.21 204.88 373.51 202.88 373.15 200.87 373.47 198.87 373.26 196.86 373.65 194.87 373.39 192.86 373.49 190.86 373.75 188.86 373.67 186.85 373.36 184.85 373.42 182.84 373.97 180.85 373.43 178.84 373.63 176.84 374.06 174.84 373.53 172.83 373.65 170.83 373.72 168.83 373.68 166.82 373.95 164.82 374.06 162.82 373.93 160.82 373.84 158.81 374.30 156.82 374.34 154.81 374.23 152.81 374.01 150.80 374.29 148.80 374.30 146.80 374.44 148.85 374.79 150.88 374.75 152.96 375.25 154.97 375.40 157.02 375.86 159.04 375.82 161.12 375.92 163.17 376.30 165.20 376.31 167.34 376.75 169.45 376.46 171.61 376.77 173.72 377.10 175.84 377.25 177.97 377.18 180.11 377.69 182.21 377.57 184.36 377.67 186.49 377.94 188.61 377.88 190.76 378.27 192.87 378.40 195.00 378.48 192.97 378.48 190.93 378.97 188.92 378.71 186.87 379.04 184.85 378.98 182.81 379.40 180.79 379.51 178.76 379.07 176.70 379.75 174.70 379.62 172.66 379.41 170.61 379.77 168.59 379.60 166.54 380.01 164.53 379.90 162.48 380.11 160.46 380.18 158.43 380.40 156.40 380.56 158.60 380.65 160.80 380.81 162.99 381.39 165.15 381.47 167.35 382.03 169.50 382.03 171.71 381.90 173.94 382.40 176.10 382.75 178.12 382.42 180.18 382.67 182.21 383.01 184.23 382.84 186.28 383.26 188.30 383.02 190.36 383.62 192.36 383.72 194.40 383.47 196.46 383.77 198.48 384.07 200.50 383.97 202.55 384.23 204.58 384.20 206.62 384.20 208.67 384.26 210.70 384.86 212.71 384.66 214.76 384.55 216.81 384.98 218.83 384.92 220.87 385.20 222.90 385.06 220.87 385.63 218.87 385.56 216.84 385.85 214.83 385.90 212.81 386.05 210.79 385.67 208.74 386.17 206.74 385.96 204.71 386.11 202.69 386.25 200.67 386.52 198.66 386.64 196.64 386.93 194.63 386.48 192.58 386.70 190.56 386.90 188.55 387.28 186.54 387.23 184.51 387.31 182.49 387.56 180.48 387.61 178.45 387.49 176.42 387.48 174.39 387.81 172.39 388.16 170.38 388.10 168.35 387.88 166.31 388.21 164.30 388.28 162.28 388.51 160.27 388.62 158.25 388.94 156.24 388.68 154.20 388.82 152.18 389.05 150.17 389.32 148.15 389.32 146.13 389.30 144.10 389.40 146.11 389.27 148.12 389.55 150.12 389.35 152.14 389.84 154.13 390.01 156.14 389.67 158.16 390.07 160.15 389.83 162.18 390.05 164.18 390.19 166.18 390.53 168.18 390.19 170.20 390.70 172.19 390.24 174.22 390.38 176.23 390.80 178.22 390.99 180.22 390.62 182.25 390.94 184.25 391.24 186.25 391.09 188.26 391.33 190.26 391.31 192.28 391.25 194.29 391.17 196.30 391.50 198.30 391.89 196.29 391.72 194.22 392.12 192.21 392.34 190.18 392.84 188.18 392.51 186.09 392.98 184.09 393.43 182.09 393.33 180.02 393.46 177.99 393.84 175.97 393.91 173.93 394.48 171.94 394.19 169.85 394.47 167.83 394.61 165.79 395.20 163.80 395.16 161.75 395.73 159.75 395.70 157.70 396.07 159.99 396.65 162.22 397.64 164.34 398.10 166.60 398.45 168.67 398.27 170.75 397.98 172.83 398.15 174.90 398.62 176.96 398.29 179.05 398.22 181.12 398.24 183.20 398.44 185.27 398.40 187.34 398.47 189.42 398.81 191.48 399.02 193.55 398.69 195.64 399.10 197.70 399.00 199.78 398.69 201.86 399.00 203.93 399.08 206.00 398.87 208.09 399.33 210.15 398.95 212.23 399.30 214.30 399.79 212.33 399.70 210.29 399.92 208.29 400.04 206.27 400.50 204.30 400.42 206.35 401.03 208.34 401.31 210.36 400.96 212.43 401.30 214.44 401.43 216.47 401.57 218.50 402.16 220.49 402.30 222.52 402.23 224.57 402.40 226.60 402.18 224.58 402.51 222.57 402.70 220.55 402.70 218.53 402.73 216.52 402.44 214.49 402.60 212.48 403.05 210.47 402.63 208.44 402.93 206.43 402.69 204.41 403.28 202.40 402.87 200.37 403.06 198.36 403.20 196.34 403.35 194.33 403.53 192.32 403.46 190.30 403.28 188.27 403.17 186.25 403.60 184.24 403.81 182.23 403.29 180.20 403.79 178.19 403.49 176.17 403.71 174.16 403.80 172.14 403.90 170.12 404.18 168.11 404.05 166.09 403.92 164.07 404.17 162.06 404.07 160.04 404.09 158.02 404.11 156.00 404.24 153.99 404.16 151.96 404.19 149.95 404.19 147.93 404.41 145.92 404.50 143.90 404.72 145.91 404.50 147.94 404.59 149.95 404.99 151.95 404.93 153.97 404.86 155.99 405.28 157.99 405.27 160.01 405.43 162.02 405.41 164.04 405.32 166.06 405.92 168.05 405.52 170.09 405.80 172.09 405.82 174.11 406.02 176.12 405.98 178.14 406.40 180.13 406.28 182.16 406.64 184.16 406.59 186.18 406.59 188.20 406.98 190.20 407.16 192.21 406.83 194.24 406.91 196.26 407.10 198.26 407.41 200.27 407.31 202.29 407.50 204.30 407.35 202.23 407.81 200.20 407.86 198.14 407.99 196.09 407.99 194.03 407.96 191.97 408.36 189.93 408.31 187.87 408.58 185.82 408.46 183.76 408.40 181.70 408.77 179.66 408.92 177.60 409.21 175.56 409.29 173.50 408.90 171.43 409.43 169.39 409.23 167.32 409.59 165.28 409.50 163.22 409.57 161.16 409.78 159.12 409.91 157.06 410.11 155.01 410.18 152.96 410.20 150.90 410.51 153.15 411.10 155.35 411.35 157.62 411.96 159.82 412.22 162.08 412.70 164.30 412.78 166.30 412.77 168.30 413.15 170.29 412.91 172.30 413.13 174.30 413.08 176.30 413.32 178.29 413.02 180.30 412.93 182.31 413.31 184.30 413.51 186.29 413.25 188.30 413.60 190.29 413.19 192.31 413.71 194.29 413.61 196.30 413.59 198.30 413.87 200.29 413.80 202.30 413.87 204.30 413.66 206.30 413.55 208.31 413.98 210.30 413.77 212.30 414.00 214.30 413.90 212.29 414.29 210.30 414.32 208.30 414.35 206.29 414.79 204.31 414.87 202.31 414.62 200.29 414.84 198.29 415.27 196.31 415.20 194.30 415.00 196.40 415.31 198.48 415.25 200.58 415.27 202.68 415.51 204.76 415.66 206.85 416.00 208.93 416.00 211.02 415.94 213.12 415.85 215.22 416.20 217.30 416.48 219.29 416.59 221.29 416.97 223.28 416.73 225.31 417.05 227.30 417.00 229.31 417.50 231.29 417.50 233.30 417.64 231.29 417.69 229.28 417.61 227.27 417.49 225.26 417.66 223.26 417.91 221.25 417.62 219.24 417.60 217.23 417.87 215.22 417.78 213.21 418.16 211.21 418.21 209.20 418.33 207.19 418.31 205.18 418.24 203.17 418.01 201.16 418.43 199.16 418.42 197.15 418.47 195.14 418.49 193.13 418.61 191.12 418.34 189.11 418.60 187.10 418.55 185.09 418.49 183.08 418.53 181.07 418.47 179.06 418.71 177.06 418.68 175.05 418.76 173.04 419.06 171.04 419.00 169.02 419.04 167.02 419.27 165.01 418.85 162.99 419.07 160.99 418.86 158.97 419.09 156.97 419.47 154.97 418.99 152.95 419.44 150.95 419.55 148.94 419.37 146.93 419.59 144.92 419.42 142.91 419.50 140.90 419.66 142.96 419.64 145.03 419.90 147.08 419.91 149.15 419.98 151.21 419.65 153.29 420.11 155.34 420.25 157.40 419.90 159.48 420.45 161.53 420.03 163.61 420.17 165.67 420.37 167.73 420.57 169.79 420.78 171.84 420.91 173.90 420.98 175.97 420.91 178.04 420.95 180.10 420.71 182.18 421.02 184.23 420.82 186.30 421.05 188.36 421.47 190.41 421.30 192.48 421.61 194.54 421.76 196.60 421.29 198.68 421.72 200.73 421.70 202.80 421.63 200.71 421.69 198.63 422.13 196.57 422.13 194.49 421.97 192.39 422.51 190.34 422.35 188.24 422.77 186.18 422.71 184.10 422.85 182.02 422.92 179.94 423.16 177.87 423.46 175.80 423.46 173.71 423.14 171.61 423.51 169.55 423.46 167.46 423.50 165.38 423.67 163.30 423.81 161.23 424.35 159.17 424.33 157.09 424.30 155.00 424.58 157.15 425.16 159.23 425.86 161.28 426.31 163.39 426.76 165.49 427.34 167.57 427.70 169.70 427.83 171.73 427.70 173.76 428.20 175.77 428.16 177.80 428.12 179.84 428.09 181.87 428.19 183.89 428.22 185.92 428.67 187.94 428.71 189.97 428.71 192.00 428.81 194.02 428.61 196.06 428.55 198.09 428.82 200.11 429.29 202.13 429.21 204.16 428.99 206.20 429.00 208.23 429.28 210.25 429.51 212.27 429.50 214.30 429.60 212.15 429.95 210.02 430.27 207.89 430.15 205.72 430.24 203.57 430.32 201.42 430.80 199.30 431.14 201.29 430.83 203.31 431.09 205.30 430.99 207.32 431.66 209.28 431.60 211.30 431.46 213.31 431.66 215.31 432.14 217.28 432.00 219.30 432.28 221.38 432.35 223.48 432.54 225.56 432.90 227.63 433.27 229.70 433.30 231.80 433.61 229.78 433.34 227.76 433.52 225.74 433.45 223.72 433.20 221.70 433.33 219.68 433.26 217.66 433.36 215.64 433.40 213.62 433.56 211.60 433.54 209.58 433.59 207.56 433.89 205.54 433.45 203.52 433.53 201.50 433.98 199.48 433.85 197.46 433.82 195.44 433.75 193.42 433.95 191.40 433.79 189.38 434.20 187.36 434.21 185.34 433.94 183.32 433.79 181.30 434.34 179.28 434.02 177.26 434.27 175.24 434.42 173.22 434.41 171.20 434.48 169.18 434.29 167.16 434.53 165.14 434.33 163.12 434.25 161.10 434.41 159.08 434.35 157.06 434.64 155.04 434.71 153.02 434.33 151.00 434.37 148.98 434.54 146.96 434.62 144.94 434.94 142.92 434.70 140.90 434.51 142.92 434.58 144.94 434.80 146.95 434.91 148.96 435.23 150.96 435.25 152.98 435.55 154.98 435.13 157.02 435.55 159.02 435.75 161.03 435.68 163.05 435.76 165.06 435.60 167.08 436.11 169.08 436.05 171.10 435.73 173.13 435.84 175.14 436.05 177.15 436.17 179.16 436.45 181.17 436.14 183.20 436.29 185.21 436.52 187.22 436.81 189.22 436.85 191.24 436.83 193.26 436.94 195.27 437.18 197.28 437.00 199.30 437.04 197.27 437.16 195.25 437.16 193.22 437.31 191.19 437.38 189.16 437.50 187.14 437.74 185.12 437.76 183.09 437.68 181.06 438.13 179.05 438.06 177.01 438.12 174.99 438.37 172.97 438.49 170.94 438.64 168.92 438.72 166.89 438.73 164.86 438.85 162.84 438.61 160.79 439.03 158.78 438.86 156.75 438.96 154.72 439.20 152.70 439.82 154.70 440.06 156.77 440.68 158.77 440.71 160.89 441.05 162.94 441.44 164.99 442.00 167.00 442.31 169.00 442.10 171.03 442.07 173.05 442.64 175.04 442.64 177.06 442.68 179.08 442.66 181.09 442.92 183.10 442.79 185.12 443.00 187.13 442.91 189.15 443.07 191.16 443.07 193.18 443.42 195.18 443.24 197.21 443.31 199.22 443.41 201.24 443.90 203.23 443.46 205.27 443.77 207.27 444.05 209.28 444.00 211.30 444.07 209.21 444.23 207.12 444.34 205.03 444.29 202.94 444.41 200.85 444.58 198.76 444.95 196.69 444.85 194.59 444.72 192.49 445.08 190.41 445.04 188.31 445.04 186.22 445.73 184.16 445.43 182.05 445.69 179.97 445.69 177.87 445.62 175.77 446.00 173.70 445.81 175.73 445.83 177.75 446.33 179.77 446.24 181.79 446.32 183.82 446.49 185.84 446.24 187.87 446.21 189.90 446.28 191.92 446.37 193.94 446.82 195.96 446.74 197.98 446.62 200.01 446.55 202.04 446.79 204.06 446.80 206.08 446.61 208.11 447.15 210.13 447.05 212.15 447.09 214.18 446.71 216.21 447.22 218.22 447.38 220.25 447.20 222.27 447.20 224.30 447.34 226.54 447.87 228.75 447.70 231.02 448.31 233.21 448.24 235.48 448.60 237.70 448.43 235.69 448.89 233.68 448.51 231.67 448.85 229.66 448.95 227.65 448.63 225.64 448.56 223.63 448.88 221.62 448.86 219.61 448.88 217.60 449.09 215.60 448.92 213.58 448.97 211.57 449.00 209.57 449.01 207.56 449.00 205.55 448.89 203.53 449.00 201.53 449.01 199.52 449.03 197.51 449.38 195.50 449.00 193.49 449.09 191.48 449.31 189.47 449.21 187.46 449.19 185.45 449.30 183.44 449.41 181.43 449.54 179.42 449.75 177.42 449.71 175.40 449.48 173.39 449.52 171.38 449.53 169.37 449.45 167.36 449.91 165.36 449.41 163.34 449.52 161.33 449.82 159.33 449.81 157.32 449.65 155.30 450.07 153.30 449.79 151.29 449.93 149.28 449.65 147.26 450.16 145.26 449.72 143.24 449.92 141.24 450.24 139.23 450.31 137.22 450.31 135.21 450.10 133.20 449.96 135.21 450.37 137.20 450.54 139.20 450.35 141.21 450.63 143.21 450.15 145.22 450.77 147.21 450.64 149.22 450.77 151.22 450.93 153.22 450.70 155.23 451.01 157.23 450.57 159.24 450.75 161.24 450.99 163.24 450.76 165.25 450.84 167.25 451.18 169.25 450.92 171.26 450.93 173.26 451.17 175.26 451.38 177.26 451.11 179.27 451.14 181.28 451.55 183.27 451.76 185.27 451.35 187.28 451.52 189.28 451.84 191.28 451.69 193.29 451.90 195.29 451.59 197.30 451.99 199.29 452.13 201.29 452.00 203.30 451.82 201.21 452.09 199.14 452.57 197.08 452.20 194.98 452.43 192.90 452.83 190.84 452.35 188.73 452.61 186.66 453.02 184.60 452.67 182.50 453.27 180.44 453.30 178.36 452.98 176.26 453.34 174.19 453.41 172.11 453.58 170.04 453.44 167.95 453.58 165.87 453.59 163.79 453.71 161.71 453.73 159.63 454.26 157.57 454.34 155.49 454.20 153.40" stroke="#008000" stroke-width="3.0" fill="none" stroke-linejoin="round" stroke-linecap="round"/><text transform="translate(70.90 371.90) scale(1 1.07)" text-anchor="middle" class="tk">0</text><text transform="translate(226.63 371.90) scale(1 1.07)" text-anchor="middle" class="tk">0.05</text><text transform="translate(382.36 371.90) scale(1 1.07)" text-anchor="middle" class="tk">0.1</text><text transform="translate(538.09 371.90) scale(1 1.07)" text-anchor="middle" class="tk">0.15</text><text transform="translate(693.81 371.90) scale(1 1.07)" text-anchor="middle" class="tk">0.2</text><text transform="translate(849.54 371.90) scale(1 1.07)" text-anchor="middle" class="tk">0.25</text><text transform="translate(1005.27 371.90) scale(1 1.07)" text-anchor="middle" class="tk">0.3</text><text transform="translate(1161.00 371.90) scale(1 1.07)" text-anchor="middle" class="tk">0.35</text><text transform="translate(64.20 32.90) scale(1 1.07)" text-anchor="end" class="tk">0.6</text><text transform="translate(64.20 86.37) scale(1 1.07)" text-anchor="end" class="tk">0.4</text><text transform="translate(64.20 139.83) scale(1 1.07)" text-anchor="end" class="tk">0.2</text><text transform="translate(64.20 193.30) scale(1 1.07)" text-anchor="end" class="tk">0</text><text transform="translate(64.20 246.77) scale(1 1.07)" text-anchor="end" class="tk">-0.2</text><text transform="translate(64.20 300.23) scale(1 1.07)" text-anchor="end" class="tk">-0.4</text><text transform="translate(64.20 353.70) scale(1 1.07)" text-anchor="end" class="tk">-0.6</text><text transform="translate(615.95 397.50) scale(1 1.01)" text-anchor="middle" class="lb">Time (s)</text><text transform="translate(18.2 186.50) rotate(-90) scale(1 1.01)" text-anchor="middle" class="lb">Amplitude</text><text transform="translate(615.95 18.00) scale(1 1.08)" text-anchor="middle" class="tt">GEN-003-004-0002</text></svg>
</body></html>
